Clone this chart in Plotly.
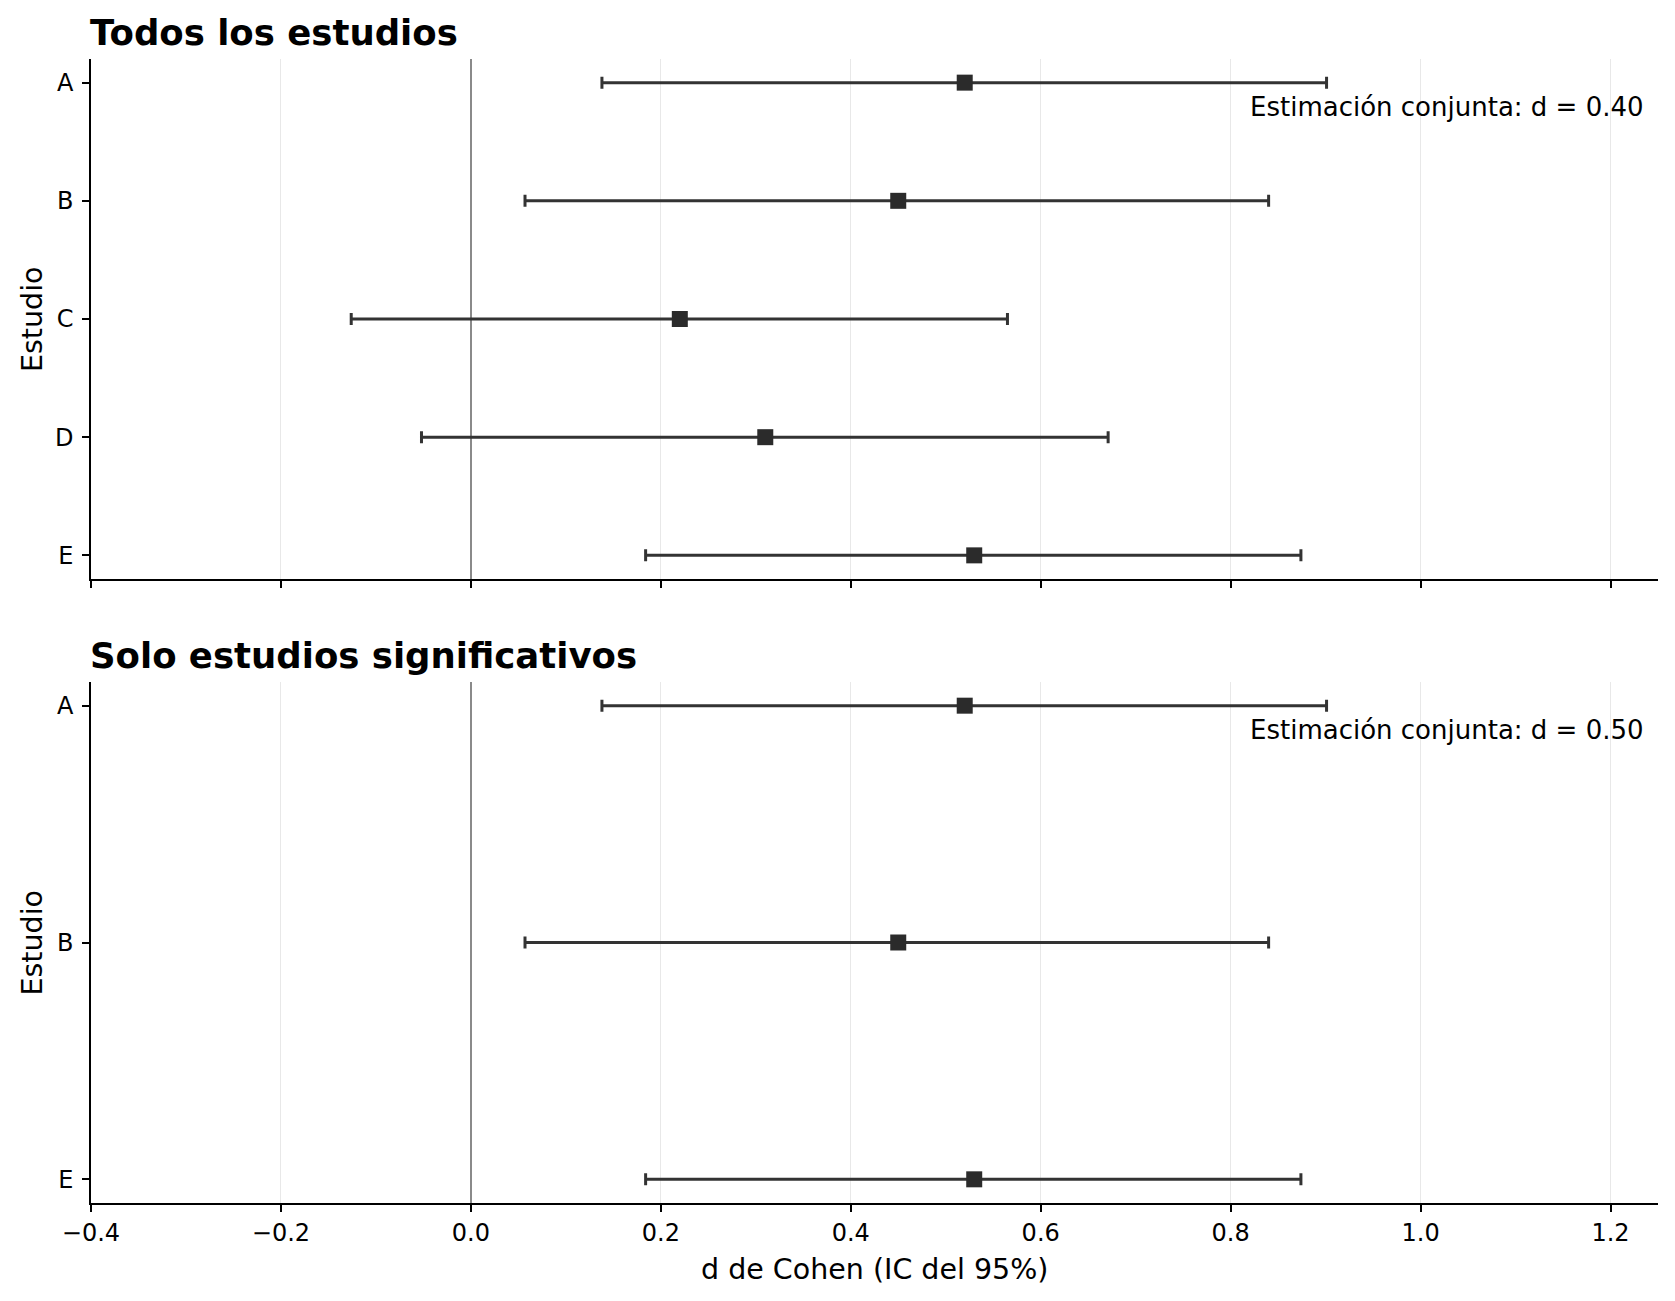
import plotly.graph_objects as go
from plotly.subplots import make_subplots

FONT_FAMILY = "DejaVu Sans"
INK = "#333333"

# data
studies = ["A", "B", "C", "D", "E"]
d_all = [0.52, 0.45, 0.22, 0.31, 0.53]
ci_low_all = [0.138, 0.057, -0.126, -0.052, 0.184]
ci_high_all = [0.901, 0.840, 0.565, 0.671, 0.874]

sig_studies = ["A", "B", "E"]
pooled = [0.40, 0.50]
panel_titles = ["Todos los estudios", "Solo estudios significativos"]

x_ticks = [-0.4, -0.2, 0.0, 0.2, 0.4, 0.6, 0.8, 1.0, 1.2]


def subset(names):
    idx = [studies.index(n) for n in names]
    d = [d_all[i] for i in idx]
    lo = [ci_low_all[i] for i in idx]
    hi = [ci_high_all[i] for i in idx]
    return d, lo, hi


def forest_trace(names):
    d, lo, hi = subset(names)
    return go.Scatter(
        x=d, y=names, mode="markers",
        marker=dict(symbol="square", size=16, color="#2b2b2b",
                    line=dict(color="#2b2b2b", width=0)),
        error_x=dict(type="data", symmetric=False,
                     array=[h - v for h, v in zip(hi, d)],
                     arrayminus=[v - l for v, l in zip(d, lo)],
                     color=INK, thickness=3, width=6),
        showlegend=False,
    )


fig = make_subplots(rows=2, cols=1, shared_xaxes=True)
fig.add_trace(forest_trace(studies), row=1, col=1)
fig.add_trace(forest_trace(sig_studies), row=2, col=1)

# page body adds an 8px margin, so positions are shifted back by it
W, H = 1675, 1301
OFF = 8
x_dom = [(91 - OFF) / W, (1658 - OFF) / W]
y_doms = [[1 - (579 - OFF) / H, 1 - (59 - OFF) / H],
          [1 - (1203 - OFF) / H, 1 - (682 - OFF) / H]]

axis_common = dict(
    showline=True, linecolor="black", linewidth=1.6,
    ticks="outside", ticklen=7, tickwidth=1.5, tickcolor="black",
    tickfont=dict(family=FONT_FAMILY, size=24, color="black"),
    automargin=False,
)

fig.update_layout(
    width=W, height=H,
    margin=dict(l=0, r=0, t=0, b=0),
    paper_bgcolor="white", plot_bgcolor="white",
    font=dict(family=FONT_FAMILY, size=24, color="black"),
    xaxis=dict(domain=x_dom, range=[-0.4, 1.25], tickvals=x_ticks,
               showticklabels=False, showgrid=True, gridcolor="#e8e8e8",
               gridwidth=1, zeroline=True, zerolinecolor="#8a8a8a",
               zerolinewidth=1.8, anchor="y", **axis_common),
    xaxis2=dict(domain=x_dom, range=[-0.4, 1.25], tickvals=x_ticks,
                tickformat=".1f", showgrid=True, gridcolor="#e8e8e8",
                gridwidth=1, zeroline=True, zerolinecolor="#8a8a8a",
                zerolinewidth=1.8, anchor="y2", matches="x",
                **axis_common),
    yaxis=dict(domain=y_doms[0], type="category", categoryorder="array",
               categoryarray=studies, range=[len(studies) - 1 + 0.2, -0.2],
               showgrid=False, zeroline=False, anchor="x",
               ticklabelstandoff=4, **axis_common),
    yaxis2=dict(domain=y_doms[1], type="category", categoryorder="array",
                categoryarray=sig_studies,
                range=[len(sig_studies) - 1 + 0.1, -0.1],
                showgrid=False, zeroline=False, anchor="x2",
                ticklabelstandoff=4, **axis_common),
)

for i, (title, est) in enumerate(zip(panel_titles, pooled)):
    top = y_doms[i][1]
    bottom = y_doms[i][0]
    fig.add_annotation(
        xref="paper", yref="paper", x=x_dom[0] - 0.002, y=top + 0.003,
        xanchor="left", yanchor="bottom", showarrow=False,
        text=f"<b>{title}</b>", font=dict(family=FONT_FAMILY, size=35.5),
    )
    fig.add_annotation(
        xref="paper", yref="paper",
        x=x_dom[0] + 0.9925 * (x_dom[1] - x_dom[0]),
        y=top - 48 / H,
        xanchor="right", yanchor="middle", showarrow=False,
        text=f"Estimación conjunta: d = {est:.2f}",
        font=dict(family=FONT_FAMILY, size=26),
    )
    fig.add_annotation(
        xref="paper", yref="paper", x=(32 - OFF) / W, y=(top + bottom) / 2,
        xanchor="center", yanchor="middle", showarrow=False, textangle=-90,
        text="Estudio", font=dict(family=FONT_FAMILY, size=28.5),
    )

fig.add_annotation(
    xref="paper", yref="paper", x=(x_dom[0] + x_dom[1]) / 2,
    y=1 - (1269 - OFF) / H,
    xanchor="center", yanchor="middle", showarrow=False,
    text="d de Cohen (IC del 95%)", font=dict(family=FONT_FAMILY, size=28.5),
)

fig.write_html("out.html")
